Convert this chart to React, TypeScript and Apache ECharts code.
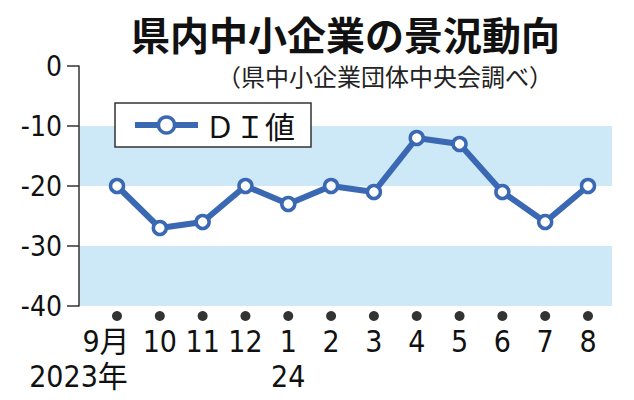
import React, { useEffect, useRef } from "react";
import * as echarts from "echarts";

const titleText = "県内中小企業の景況動向";
const subtitleText = "（県中小企業団体中央会調べ）";
const seriesName = "ＤＩ値";
const months = ["9月", "10", "11", "12", "1", "2", "3", "4", "5", "6", "7", "8"];
const years = ["2023年", "", "", "", "24", "", "", "", "", "", "", ""];
const diValues = [-20, -27, -26, -20, -23, -20, -21, -12, -13, -21, -26, -20];
const yTicks = { min: -40, max: 0, step: 10 };

const NARROW = "'Liberation Sans Narrow', 'DejaVu Sans Condensed', 'Noto Sans CJK JP', sans-serif";
const CJK = "'Noto Sans CJK JP', sans-serif";
const BLUE = "#3a68b3";
const BAND = "#cde9f8";

export default function App() {
  const ref = useRef<HTMLDivElement>(null);
  useEffect(() => {
    if (!ref.current) return;
    const chart = echarts.init(ref.current, null, { renderer: "svg" });
    const option: any = {
      animation: false,
      backgroundColor: "#ffffff",
      title: [
        {
          text: titleText,
          left: 126,
          top: 8,
          textStyle: { fontSize: 39, fontWeight: "bold", fontFamily: CJK, color: "#111" },
        },
        {
          text: subtitleText,
          right: 76,
          top: 58,
          textStyle: { fontSize: 24, fontWeight: "normal", fontFamily: CJK, color: "#222" },
        },
      ],
      legend: {
        data: [seriesName],
        left: 115,
        top: 103,
        padding: [7, 16, 7, 17],
        backgroundColor: "#fff",
        borderColor: "#333",
        borderWidth: 1.5,
        borderRadius: 0,
        itemWidth: 63,
        itemHeight: 20,
        itemGap: 5,
        lineStyle: { width: 6, color: BLUE },
        itemStyle: { color: "#fff", borderColor: BLUE, borderWidth: 3.5 },
        textStyle: { fontSize: 30, fontFamily: CJK, color: "#111", padding: [0, 0, 0, 2] },
      },
      grid: [
        { left: 79, right: 22, top: 66, bottom: 94 },
        { left: 117, right: 46, top: 66, bottom: 94 },
      ],
      xAxis: [
        { type: "value", gridIndex: 0, min: 0, max: 1, show: false },
        {
          type: "category",
          gridIndex: 1,
          data: months,
          boundaryGap: false,
          axisLine: { show: false },
          axisTick: { show: false },
          axisLabel: {
            interval: 0,
            margin: 18,
            color: "#111",
            fontFamily: NARROW,
            fontSize: 30,
            formatter: (v: string, i: number) => {
              const y = years[i];
              if (i === 0) return `{m0|${v}}\n{y0|${y}}`;
              return y ? `{m|${v}}\n{m|${y}}` : `{m|${v}}`;
            },
            rich: {
              m: { fontSize: 30, lineHeight: 35, fontFamily: NARROW, color: "#111" },
              m0: { fontSize: 30, lineHeight: 35, fontFamily: NARROW, color: "#111", padding: [0, 22, 0, 0] },
              y0: { fontSize: 30, lineHeight: 35, fontFamily: NARROW, color: "#111", padding: [0, 77, 0, 0] },
            },
          },
        },
      ],
      yAxis: [
        {
          type: "value",
          gridIndex: 0,
          min: yTicks.min,
          max: yTicks.max,
          interval: yTicks.step,
          axisLine: { show: true, lineStyle: { color: "#333", width: 1.5 } },
          axisTick: { show: true, length: 12, lineStyle: { color: "#333", width: 1.5 } },
          axisLabel: { margin: 17, fontSize: 28, fontFamily: NARROW, color: "#111" },
          splitLine: { show: false },
          splitArea: { show: true, areaStyle: { color: [BAND, "#ffffff"] } },
        },
        {
          type: "value",
          gridIndex: 1,
          min: yTicks.min,
          max: yTicks.max,
          interval: yTicks.step,
          show: false,
          splitLine: { show: false },
        },
      ],
      series: [
        {
          name: "dots",
          type: "scatter",
          xAxisIndex: 1,
          yAxisIndex: 1,
          data: months.map(() => yTicks.min),
          symbol: "circle",
          symbolSize: 10,
          symbolOffset: [0, 10],
          clip: false,
          itemStyle: { color: "#000" },
          silent: true,
        },
        {
          name: seriesName,
          type: "line",
          xAxisIndex: 1,
          yAxisIndex: 1,
          data: diValues,
          symbol: "circle",
          symbolSize: 13,
          lineStyle: { color: BLUE, width: 6 },
          itemStyle: { color: "#fff", borderColor: BLUE, borderWidth: 3.5 },
          z: 5,
        },
      ],
    };
    chart.setOption(option);
    return () => chart.dispose();
  }, []);
  return (
    <div
      ref={ref}
      style={{ position: "fixed", left: 0, top: 0, width: 634, height: 400 }}
    />
  );
}
